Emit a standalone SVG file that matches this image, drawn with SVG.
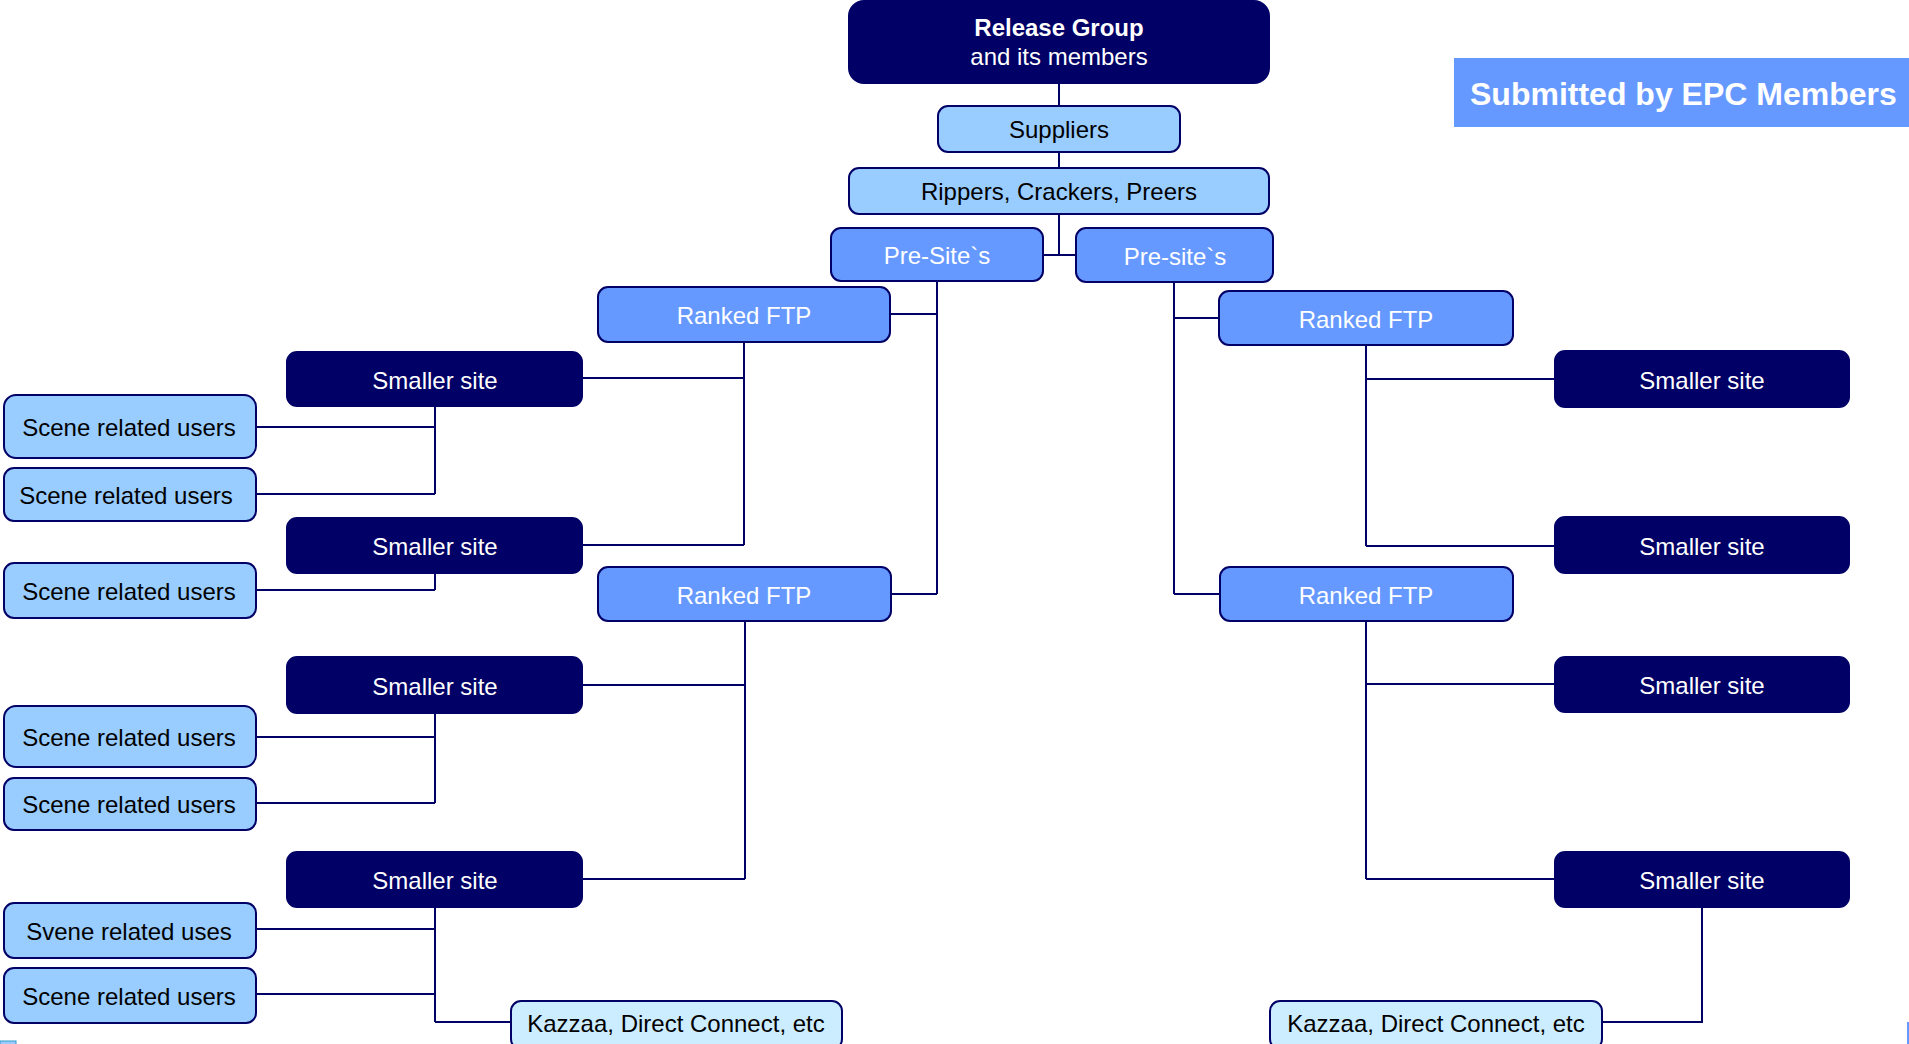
<svg xmlns="http://www.w3.org/2000/svg" width="1909" height="1044" viewBox="0 0 1909 1044">
<style>
.box{stroke:#000066;stroke-width:2}
.dark{fill:#000066}
.mid{fill:#6699FF}
.light{fill:#99CCFF}
.pale{fill:#CCECFF}
text{font-family:"Liberation Sans",Arial,sans-serif;font-size:24px;text-anchor:middle}
.w{fill:#FFFFFF}
.k{fill:#000000}
.b{font-weight:bold}
#connectors path{fill:none;stroke:#000066;stroke-width:2}
</style>
<rect width="1909" height="1044" fill="#FFFFFF"/>
<g id="connectors">
<path d="M1059,83V106"/>
<path d="M1059,152V168"/>
<path d="M1059,214V255M1043,255H1076"/>
<path d="M937,281V594M890,314H937M891,594H937"/>
<path d="M1174,282V594M1174,318H1219M1174,594H1220"/>
<path d="M744,342V545M582,378H744M582,545H744"/>
<path d="M745,621V879M582,685H745M582,879H745"/>
<path d="M1366,345V546M1366,379H1555M1366,546H1555"/>
<path d="M1366,621V879M1366,684H1555M1366,879H1555"/>
<path d="M435,406V494M256,427H435M256,494H435"/>
<path d="M435,573V590M256,590H435"/>
<path d="M435,713V803M256,737H435M256,803H435"/>
<path d="M435,907V1022M256,929H435M256,994H435M435,1022H511"/>
<path d="M1702,907V1022H1602"/>
</g>
<g id="release-group"><rect class="box dark" x="849" y="1" width="420" height="82" rx="15"/><text class="w b" x="1059" y="36">Release Group</text><text class="w" x="1059" y="65">and its members</text></g>
<g id="suppliers"><rect class="box light" x="938" y="106" width="242" height="46" rx="10"/><text class="k" x="1059" y="138">Suppliers</text></g>
<g id="rippers"><rect class="box light" x="849" y="168" width="420" height="46" rx="10"/><text class="k" x="1059" y="200">Rippers, Crackers, Preers</text></g>
<g id="presite-left"><rect class="box mid" x="831" y="228" width="212" height="53" rx="10"/><text class="w" x="937" y="264">Pre-Site`s</text></g>
<g id="presite-right"><rect class="box mid" x="1076" y="228" width="197" height="54" rx="10"/><text class="w" x="1175" y="265">Pre-site`s</text></g>
<g id="ftp-left-1"><rect class="box mid" x="598" y="287" width="292" height="55" rx="10"/><text class="w" x="744" y="324">Ranked FTP</text></g>
<g id="ftp-left-2"><rect class="box mid" x="598" y="567" width="293" height="54" rx="10"/><text class="w" x="744" y="604">Ranked FTP</text></g>
<g id="ftp-right-1"><rect class="box mid" x="1219" y="291" width="294" height="54" rx="10"/><text class="w" x="1366" y="328">Ranked FTP</text></g>
<g id="ftp-right-2"><rect class="box mid" x="1220" y="567" width="293" height="54" rx="10"/><text class="w" x="1366" y="604">Ranked FTP</text></g>
<g id="small-left-1"><rect class="box dark" x="287" y="352" width="295" height="54" rx="10"/><text class="w" x="435" y="389">Smaller site</text></g>
<g id="small-left-2"><rect class="box dark" x="287" y="518" width="295" height="55" rx="10"/><text class="w" x="435" y="555">Smaller site</text></g>
<g id="small-left-3"><rect class="box dark" x="287" y="657" width="295" height="56" rx="10"/><text class="w" x="435" y="695">Smaller site</text></g>
<g id="small-left-4"><rect class="box dark" x="287" y="852" width="295" height="55" rx="10"/><text class="w" x="435" y="889">Smaller site</text></g>
<g id="small-right-1"><rect class="box dark" x="1555" y="351" width="294" height="56" rx="10"/><text class="w" x="1702" y="389">Smaller site</text></g>
<g id="small-right-2"><rect class="box dark" x="1555" y="517" width="294" height="56" rx="10"/><text class="w" x="1702" y="555">Smaller site</text></g>
<g id="small-right-3"><rect class="box dark" x="1555" y="657" width="294" height="55" rx="10"/><text class="w" x="1702" y="694">Smaller site</text></g>
<g id="small-right-4"><rect class="box dark" x="1555" y="852" width="294" height="55" rx="10"/><text class="w" x="1702" y="889">Smaller site</text></g>
<g id="users-1"><rect class="box light" x="4" y="395" width="252" height="63" rx="12"/><text class="k" x="129" y="436">Scene related users</text></g>
<g id="users-2"><rect class="box light" x="4" y="468" width="252" height="53" rx="10"/><text class="k" x="126" y="504">Scene related users</text></g>
<g id="users-3"><rect class="box light" x="4" y="563" width="252" height="55" rx="10"/><text class="k" x="129" y="600">Scene related users</text></g>
<g id="users-4"><rect class="box light" x="4" y="706" width="252" height="61" rx="12"/><text class="k" x="129" y="746">Scene related users</text></g>
<g id="users-5"><rect class="box light" x="4" y="778" width="252" height="52" rx="10"/><text class="k" x="129" y="813">Scene related users</text></g>
<g id="users-6"><rect class="box light" x="4" y="903" width="252" height="55" rx="10"/><text class="k" x="129" y="940">Svene related uses</text></g>
<g id="users-7"><rect class="box light" x="4" y="968" width="252" height="55" rx="10"/><text class="k" x="129" y="1005">Scene related users</text></g>
<g id="kazzaa-left"><rect class="box pale" x="511" y="1001" width="331" height="48" rx="10"/><text class="k" x="676" y="1032">Kazzaa, Direct Connect, etc</text></g>
<g id="kazzaa-right"><rect class="box pale" x="1270" y="1001" width="332" height="48" rx="10"/><text class="k" x="1436" y="1032">Kazzaa, Direct Connect, etc</text></g>
<g id="submitted"><rect x="1454" y="58" width="455" height="69" fill="#6699FF"/><text class="w b" x="1470" y="105" style="font-size:32px;text-anchor:start">Submitted by EPC Members</text></g>
<rect x="0" y="1041" width="16" height="4" fill="#99CCFF" stroke="#3399CC" stroke-width="1"/>
<rect x="1907" y="1022" width="2" height="22" fill="#6699FF"/>
</svg>
